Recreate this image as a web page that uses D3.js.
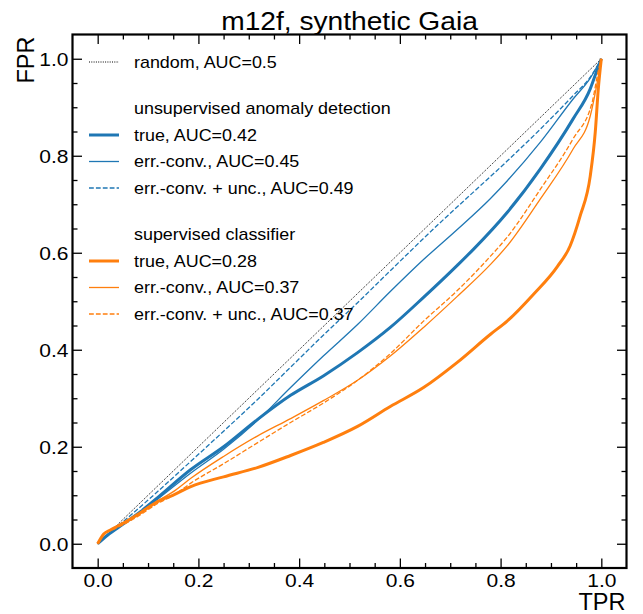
<!DOCTYPE html>
<html>
<head>
<meta charset="utf-8">
<script src="https://cdn.jsdelivr.net/npm/d3@7"></script>
<style>
  body { margin: 0; background: #fff; }
  text { font-family: "Liberation Sans", Arial, sans-serif; fill: #000; }
</style>
</head>
<body>
<div id="chart"></div>
<script>
// ROC curves, x = TPR, y = FPR
var randomCurve = [[0, 0], [1, 1]];

var unsupTrue = [[0, 0], [0.02, 0.018], [0.05, 0.04], [0.085, 0.066], [0.119, 0.095], [0.185, 0.153],
  [0.25, 0.2], [0.317, 0.256], [0.383, 0.306], [0.448, 0.346], [0.516, 0.394], [0.581, 0.446],
  [0.647, 0.508], [0.714, 0.574], [0.746, 0.607], [0.813, 0.683], [0.879, 0.773], [0.944, 0.876],
  [0.978, 0.938], [0.99, 0.972], [1, 1]];

var unsupConv = [[0, 0], [0.02, 0.018], [0.05, 0.04], [0.085, 0.065], [0.119, 0.092], [0.185, 0.146],
  [0.25, 0.195], [0.317, 0.254], [0.383, 0.322], [0.448, 0.387], [0.516, 0.452], [0.581, 0.52],
  [0.647, 0.586], [0.714, 0.648], [0.78, 0.712], [0.813, 0.748], [0.879, 0.828], [0.944, 0.917],
  [0.978, 0.96], [1, 1]];

var unsupConvUnc = [[0, 0], [0.02, 0.019], [0.05, 0.045], [0.1, 0.09], [0.185, 0.17], [0.25, 0.232],
  [0.317, 0.297], [0.383, 0.364], [0.448, 0.43], [0.516, 0.497], [0.581, 0.563], [0.68, 0.662],
  [0.746, 0.725], [0.813, 0.789], [0.879, 0.855], [0.944, 0.924], [0.978, 0.962], [1, 1]];

var supTrue = [[0, 0], [0.012, 0.02], [0.026, 0.029], [0.052, 0.043], [0.085, 0.064], [0.119, 0.087],
  [0.151, 0.101], [0.185, 0.118], [0.25, 0.138], [0.317, 0.157], [0.383, 0.182], [0.448, 0.209],
  [0.516, 0.242], [0.581, 0.283], [0.647, 0.322], [0.714, 0.374], [0.78, 0.432], [0.813, 0.459],
  [0.865, 0.514], [0.913, 0.572], [0.938, 0.614], [0.958, 0.676], [0.978, 0.758], [0.988, 0.849],
  [0.994, 0.938], [1, 1]];

var supConv = [[0, 0], [0.012, 0.02], [0.026, 0.029], [0.052, 0.043], [0.085, 0.063], [0.119, 0.088],
  [0.151, 0.108], [0.185, 0.135], [0.25, 0.18], [0.317, 0.222], [0.383, 0.258], [0.448, 0.295],
  [0.516, 0.337], [0.581, 0.387], [0.647, 0.446], [0.714, 0.51], [0.78, 0.576], [0.813, 0.614],
  [0.879, 0.711], [0.944, 0.814], [0.978, 0.882], [0.992, 0.952], [1, 1]];

var supConvUnc = [[0, 0], [0.012, 0.019], [0.026, 0.027], [0.052, 0.04], [0.085, 0.06], [0.119, 0.083],
  [0.151, 0.1], [0.185, 0.125], [0.25, 0.165], [0.317, 0.208], [0.383, 0.25], [0.448, 0.29],
  [0.516, 0.337], [0.581, 0.392], [0.647, 0.459], [0.714, 0.522], [0.78, 0.593], [0.813, 0.632],
  [0.879, 0.731], [0.944, 0.835], [0.982, 0.911], [0.995, 0.98], [1, 1]];

var majorTicks = [0, 0.2, 0.4, 0.6, 0.8, 1.0];
var tickLabels = ["0.0", "0.2", "0.4", "0.6", "0.8", "1.0"];

var blue = "#1f77b4", orange = "#ff7f0e";

// legend entries in order (header rows have no curve)
var series = [
  { name: "random, AUC=0.5", data: randomCurve, color: "#000", width: 1, dash: "1,1.3" },
  { header: "unsupervised anomaly detection" },
  { name: "true, AUC=0.42", data: unsupTrue, color: blue, width: 3, dash: null },
  { name: "err.-conv., AUC=0.45", data: unsupConv, color: blue, width: 1.3, dash: null },
  { name: "err.-conv. + unc., AUC=0.49", data: unsupConvUnc, color: blue, width: 1.3, dash: "4.8,2.1" },
  { header: "supervised classifier" },
  { name: "true, AUC=0.28", data: supTrue, color: orange, width: 3, dash: null },
  { name: "err.-conv., AUC=0.37", data: supConv, color: orange, width: 1.3, dash: null },
  { name: "err.-conv. + unc., AUC=0.37", data: supConvUnc, color: orange, width: 1.3, dash: "4.8,2.1" }
];

var width = 643, height = 614;
var margin = { left: 72.5, right: 16.5, top: 34.5, bottom: 46 };
var w = width - margin.left - margin.right;
var h = height - margin.top - margin.bottom;

var x = d3.scaleLinear().domain([-0.05, 1.05]).range([0, w]);
var y = d3.scaleLinear().domain([-0.05, 1.05]).range([h, 0]);

var svg = d3.select("#chart").append("svg")
  .attr("width", width)
  .attr("height", height);

var g = svg.append("g")
  .attr("transform", "translate(" + margin.left + "," + margin.top + ")");

var line = d3.line()
  .x(function (d) { return x(d[0]); })
  .y(function (d) { return y(d[1]); })
  .curve(d3.curveMonotoneX);

series.filter(function (s) { return s.data; }).forEach(function (s) {
  g.append("path")
    .attr("d", line(s.data))
    .attr("fill", "none")
    .attr("stroke", s.color)
    .attr("stroke-width", s.width)
    .attr("stroke-dasharray", s.dash)
    .attr("stroke-linejoin", "round");
});

// axes with inward ticks on all sides
var minorTicks = d3.range(0, 21).map(function (i) { return i * 0.05; })
  .filter(function (v) { return Math.round(v * 100) % 20 !== 0; });

function tickAxis(axisFn, scale, transform, labelled) {
  var a = g.append("g").attr("transform", transform);
  a.call(axisFn(scale).tickValues(minorTicks).tickSize(-5).tickFormat(""));
  var m = g.append("g").attr("transform", transform);
  m.call(axisFn(scale).tickValues(majorTicks).tickSize(-9.5)
    .tickFormat(labelled ? function (d, i) { return tickLabels[i]; } : ""));
  [a, m].forEach(function (s) {
    s.select(".domain").remove();
    s.selectAll(".tick line").attr("stroke", "#000").attr("stroke-width", 1.3);
  });
  return m;
}

// tick labels are drawn a little wider than Liberation Sans
var tickScale = 1.2;

var xb = tickAxis(d3.axisBottom, x, "translate(0," + h + ")", true);
xb.selectAll(".tick text")
  .attr("y", 7).attr("dy", "0.71em")
  .attr("transform", "scale(" + tickScale + ",1)")
  .style("font-size", "17.5px")
  .style("font-family", "Liberation Sans, Arial, sans-serif");
tickAxis(d3.axisTop, x, "translate(0,0)", false);
var yl = tickAxis(d3.axisLeft, y, "translate(0,0)", true);
yl.selectAll(".tick text")
  .attr("x", -4 / tickScale).attr("dy", "0.36em")
  .attr("transform", "scale(" + tickScale + ",1)")
  .style("font-size", "17.5px")
  .style("font-family", "Liberation Sans, Arial, sans-serif");
tickAxis(d3.axisRight, y, "translate(" + w + ",0)", false);

g.append("rect")
  .attr("width", w).attr("height", h)
  .attr("fill", "none").attr("stroke", "#000").attr("stroke-width", 2.2);

// title & axis labels
svg.append("text")
  .attr("transform", "translate(" + (margin.left + w / 2) + ",30) scale(1.1,1)")
  .attr("text-anchor", "middle")
  .style("font-size", "25.6px")
  .text("m12f, synthetic Gaia");

svg.append("text")
  .attr("x", margin.left + w - 1).attr("y", 610)
  .attr("text-anchor", "end")
  .style("font-size", "23.5px")
  .text("TPR");

svg.append("text")
  .attr("transform", "translate(33.5," + 36.5 + ") rotate(-90)")
  .attr("text-anchor", "end")
  .style("font-size", "23.5px")
  .text("FPR");

// legend
var rowY = [62, 108.5, 135, 161.5, 188, 234.5, 261, 287.5, 314];
var leg = svg.append("g");
series.forEach(function (s, i) {
  var yy = rowY[i];
  if (s.data) {
    leg.append("line")
      .attr("x1", 89).attr("x2", 119).attr("y1", yy).attr("y2", yy)
      .attr("stroke", s.color).attr("stroke-width", s.width)
      .attr("stroke-dasharray", s.dash);
  }
  leg.append("text")
    .attr("transform", "translate(134," + yy + ") scale(1.12,1)")
    .attr("dy", "0.36em")
    .style("font-size", "16px")
    .text(s.header || s.name);
});
</script>
</body>
</html>
